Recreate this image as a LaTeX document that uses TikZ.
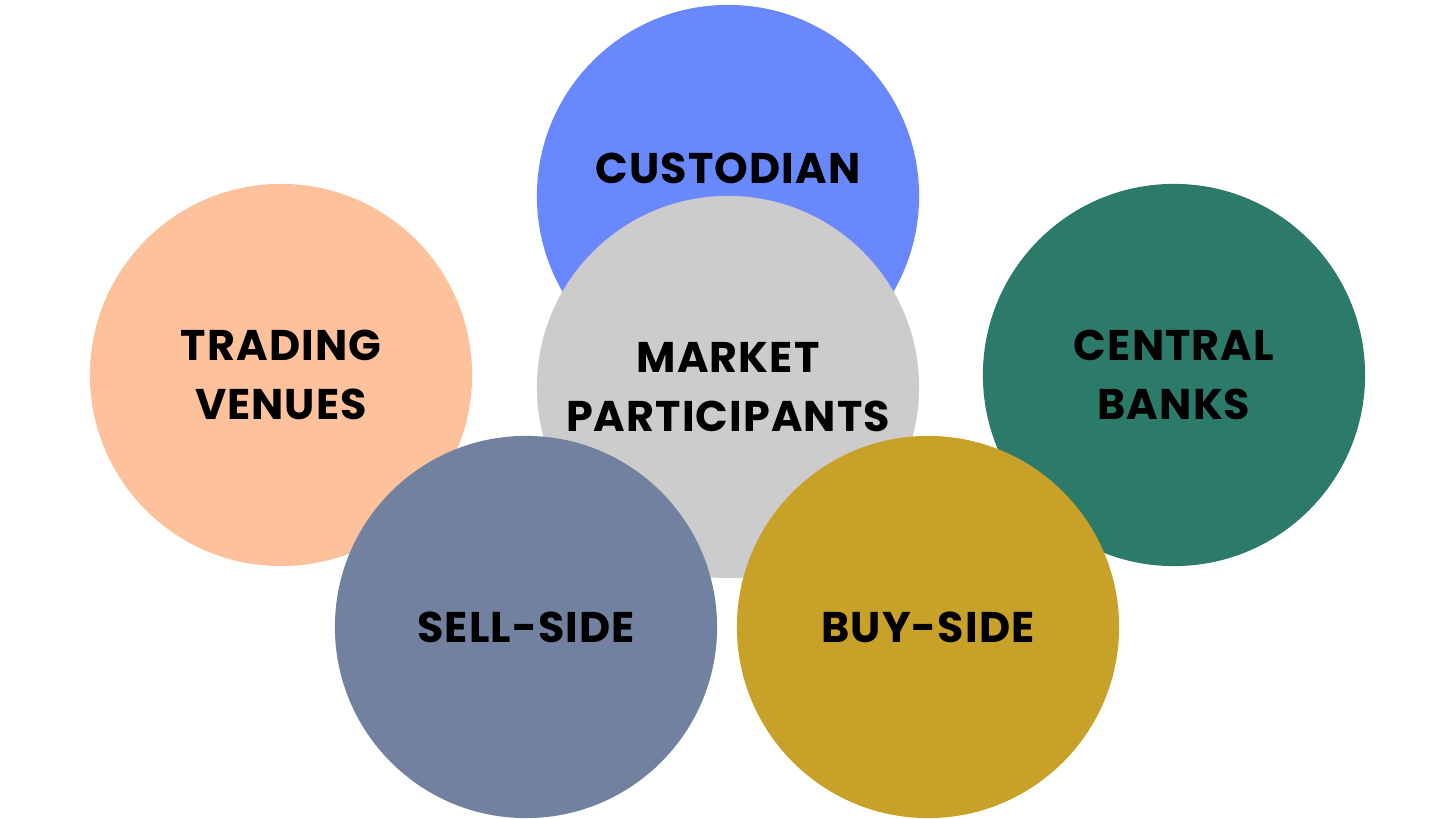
\documentclass[tikz,border=0pt]{standalone}
\usepackage{fontspec}
\setmainfont{Poppins}[LetterSpace=2.5]
\usepackage{xcolor}
\usepackage{tikz}
\definecolor{peachColor}{HTML}{FDC19B}
\definecolor{greenColor}{HTML}{2C7B6A}
\definecolor{blueColor}{HTML}{6A88FE}
\definecolor{greyColor}{HTML}{CCCCCC}
\definecolor{slateColor}{HTML}{71819F}
\definecolor{goldColor}{HTML}{C8A128}
\tikzset{
    blob/.style={circle, minimum size=3.82cm, inner sep=0pt, align=center,
        font=\bfseries\fontsize{12.2}{17}\selectfont},
    blobtext/.style={align=center, font=\bfseries\fontsize{12.2}{17}\selectfont}
}

\begin{document}
\begin{tikzpicture}[x=0.01cm, y=-0.01cm]
    \useasboundingbox (0,0) rectangle (1456,819);
    % outer ring
    \node[blob, fill=peachColor] (venues) at (281,375) {TRADING\\VENUES};
    \node[blob, fill=greenColor] (banks) at (1174,375) {CENTRAL\\BANKS};
    \node[blob, fill=blueColor] (custodian) at (728,196) {};
    \node[blobtext] (custodianText) at (728,168) {CUSTODIAN};
    % centre
    \node[blob, fill=greyColor] (market) at (728,387) {MARKET\\PARTICIPANTS};
    % bottom pair
    \node[blob, fill=slateColor] (sell) at (526,627) {SELL-SIDE};
    \node[blob, fill=goldColor] (buy) at (928,627) {BUY-SIDE};
\end{tikzpicture}
\end{document}
